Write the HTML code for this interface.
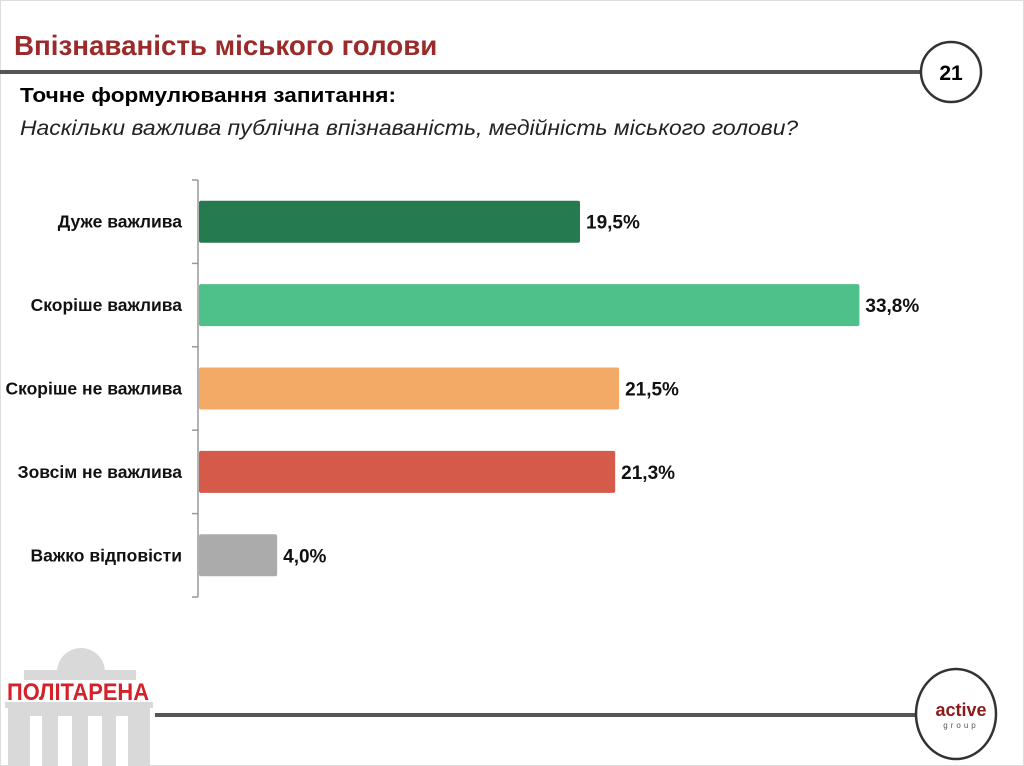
<!DOCTYPE html>
<html><head><meta charset="utf-8"><style>
html,body{margin:0;padding:0;background:#fff}
body{width:1024px;height:766px;position:relative;overflow:hidden;font-family:"Liberation Sans",sans-serif}
.t{position:absolute;white-space:nowrap}
</style></head><body>
<div style="position:absolute;left:0;top:0;width:1022px;height:764px;border:1px solid #ddd"></div>
<div class="t" style="left:14px;top:30px;font-size:28px;font-weight:bold;color:#9b2b2b;transform:scaleX(0.99);transform-origin:left">Впізнаваність міського голови</div>
<div class="t" style="left:20px;top:85px;font-size:20px;font-weight:bold;color:#000;transform:scaleX(1.13);transform-origin:left">Точне формулювання запитання:</div>
<div class="t" style="left:20px;top:117px;font-size:21px;font-style:italic;color:#222;transform:scaleX(1.09);transform-origin:left">Наскільки важлива публічна впізнаваність, медійність міського голови?</div>
<svg width="1024" height="766" style="position:absolute;left:0;top:0">
<line x1="0" y1="72" x2="921" y2="72" stroke="#555" stroke-width="4"/>
<circle cx="951" cy="72" r="30" fill="#fff" stroke="#333" stroke-width="2.5"/>
<text x="951" y="80" text-anchor="middle" font-size="21" font-weight="bold" font-family="Liberation Sans">21</text>
<line x1="155" y1="715" x2="918" y2="715" stroke="#555" stroke-width="4"/>
<ellipse cx="956" cy="714" rx="40" ry="45" fill="#fff" stroke="#333" stroke-width="2.5"/>
<text x="961" y="716" text-anchor="middle" font-size="18" font-weight="bold" fill="#8b1a1a" font-family="Liberation Sans">active</text>
<text x="961" y="728" text-anchor="middle" font-size="8" fill="#555" letter-spacing="3" font-family="Liberation Sans">group</text>
<g fill="#d9d9d9">
<path d="M57 672 A24 24 0 0 1 105 672 Z"/>
<rect x="24" y="670" width="112" height="10"/>
<rect x="5" y="702" width="148" height="6"/>
<rect x="8" y="708" width="142" height="58"/>
</g>
<g fill="#fff"><rect x="30" y="716" width="12" height="50"/><rect x="58" y="716" width="14" height="50"/><rect x="88" y="716" width="14" height="50"/><rect x="116" y="716" width="12" height="50"/></g>
<text x="78" y="700" text-anchor="middle" font-size="24" font-weight="bold" fill="#d4212a" font-family="Liberation Sans" textLength="142" lengthAdjust="spacingAndGlyphs">ПОЛІТАРЕНА</text>
<g id="chart"></g>
</svg>
<script>
const categories=["Дуже важлива","Скоріше важлива","Скоріше не важлива","Зовсім не важлива","Важко відповісти"];
const values=[19.5,33.8,21.5,21.3,4.0];
const valueLabels=["19,5%","33,8%","21,5%","21,3%","4,0%"];
const colors=["#257a50","#4ec08a","#f2aa66","#d65a4a","#ababab"];
const NS="http://www.w3.org/2000/svg";
const chartG=document.getElementById('chart');
const x0=199, pxPer=381/19.5, plotTop=180, band=83.4, barH=42;
const xs=v=>x0+v*pxPer;
const yc=i=>plotTop+band*(i+0.5);
function mk(t,a){const e=document.createElementNS(NS,t);for(const k in a)e.setAttribute(k,a[k]);chartG.appendChild(e);return e;}
let ax=mk('line',{x1:198,y1:plotTop,x2:198,y2:plotTop+band*categories.length,stroke:'#999','stroke-width':1.5});


for(let i=0;i<=categories.length;i++){
 let tk=mk('line',{x1:192,y1:plotTop+band*i,x2:198,y2:plotTop+band*i,stroke:'#999','stroke-width':1.5});
 
 
}
categories.forEach((c,i)=>{
 let b=mk('rect',{x:x0,y:yc(i)-barH/2,width:xs(values[i])-x0,height:barH,rx:2,fill:colors[i]});
 
 
 let l=mk('text',{x:182,y:yc(i)+6,'text-anchor':'end','font-size':17.5,'font-weight':'bold','font-family':'Liberation Sans',fill:'#111'});
 l.textContent=c;
 
 
 let v=mk('text',{x:xs(values[i])+6,y:yc(i)+7,'font-size':19,'font-weight':'bold','font-family':'Liberation Sans',fill:'#111'});
 v.textContent=valueLabels[i];
 
 
});
</script>
</body></html>
